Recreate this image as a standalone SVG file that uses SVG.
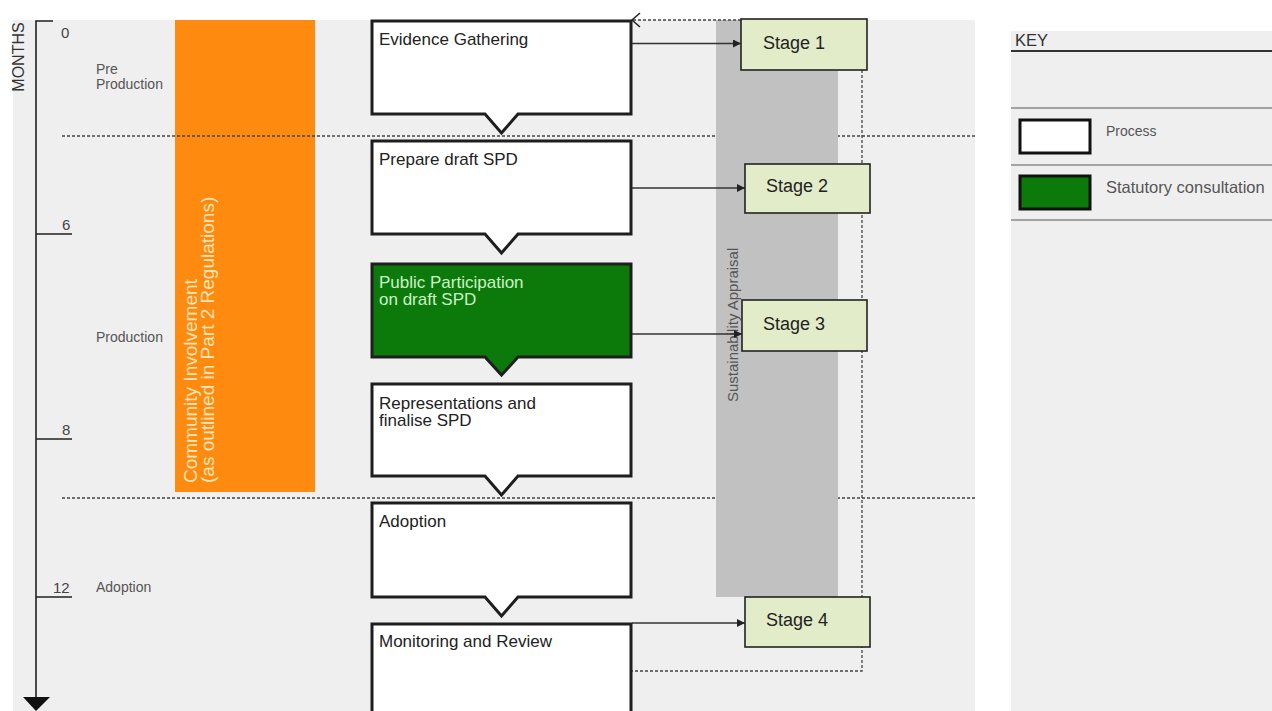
<svg xmlns="http://www.w3.org/2000/svg" width="1272" height="711" viewBox="0 0 1272 711">
<defs>
<style>
text{font-family:"Liberation Sans",Arial,sans-serif}
.box{fill:#ffffff;stroke:#1e1e1e;stroke-width:3}
.gbox{fill:#0b7a0b;stroke:#1e1e1e;stroke-width:3}
.bt{font-size:17px;fill:#222}
.gt{font-size:17px;fill:#ccf3c4}
.stage{fill:#e2ecc9;stroke:#222;stroke-width:1.6}
.st{font-size:18px;fill:#222}
.lbl{font-size:14px;fill:#555}
.num{font-size:15px;fill:#444}
.dash{fill:none;stroke:#444;stroke-width:1.3;stroke-dasharray:3 2}
.arr{fill:none;stroke:#333;stroke-width:1.5;marker-end:url(#ah)}
.axis{stroke:#222;stroke-width:1.6;fill:none}
</style>
<marker id="ah" viewBox="0 0 10 10" refX="10" refY="5" markerWidth="8" markerHeight="8" markerUnits="userSpaceOnUse" orient="auto">
<path d="M0,0 L10,5 L0,10 Z" fill="#222"/>
</marker>
</defs>
<rect x="0" y="0" width="1272" height="711" fill="#ffffff"/>
<g id="background">
<rect x="13" y="20" width="962" height="691" fill="#efefef"/>
<rect x="1011" y="31" width="261" height="680" fill="#efefef"/>
</g>
<g id="axis">
<path class="axis" d="M53,21 H36 V700"/>
<path d="M23,697 L50,697 L36,711 Z" fill="#111"/>
<path class="axis" d="M36,234 H72 M36,439 H72 M36,597 H72"/>
<text x="18" y="57" font-size="16" fill="#333" text-anchor="middle" transform="rotate(-90 18 57)" dominant-baseline="central">MONTHS</text>
<text class="num" x="61" y="38">0</text>
<text class="num" x="62" y="230">6</text>
<text class="num" x="62" y="435">8</text>
<text class="num" x="53" y="593">12</text>
<text class="lbl" x="96" y="74">Pre</text>
<text class="lbl" x="96" y="89">Production</text>
<text class="lbl" x="96" y="342">Production</text>
<text class="lbl" x="96" y="592">Adoption</text>
</g>
<g id="community">
<rect x="175" y="20" width="140" height="472" fill="#ff8a10"/>
<text x="0" y="0" font-size="19" fill="#ffe6b8" transform="translate(197 483) rotate(-90)">Community Involvement</text>
<text x="0" y="0" font-size="19" fill="#ffe6b8" transform="translate(214 483) rotate(-90)">(as outlined in Part 2 Regulations)</text>
</g>
<g id="phase-lines">
<line class="dash" x1="62" y1="136" x2="975" y2="136"/>
<line class="dash" x1="62" y1="498" x2="975" y2="498"/>
</g>
<g id="sustainability">
<rect x="716" y="20" width="122" height="577" fill="#c1c1c1"/>
<text x="0" y="0" font-size="15" fill="#555" transform="translate(738 402) rotate(-90)">Sustainability Appraisal</text>
</g>
<g id="connectors">
<path class="dash" d="M862,70 V671 H632"/>
<path class="dash" d="M741,20 H633"/>
<path d="M640,13 L632,20 L640,27" fill="none" stroke="#222" stroke-width="1.5"/>
<line class="arr" x1="632" y1="43.5" x2="741" y2="43.5"/>
<line class="arr" x1="632" y1="188" x2="745" y2="188"/>
<line class="arr" x1="632" y1="334" x2="742" y2="334"/>
<line class="arr" x1="632" y1="623" x2="745" y2="623"/>
</g>
<g id="evidence-gathering">
<path class="box" d="M372,21 H631 V114 H518 L501.5,133 L485,114 H372 Z"/>
<text class="bt" x="379" y="45">Evidence Gathering</text>
</g>
<g id="prepare-draft">
<path class="box" d="M372,141 H631 V234 H518 L501.5,253 L485,234 H372 Z"/>
<text class="bt" x="379" y="165">Prepare draft SPD</text>
</g>
<g id="public-participation">
<path class="gbox" d="M372,264 H631 V357 H518 L501.5,375 L485,357 H372 Z"/>
<text class="gt" x="379" y="288">Public Participation</text>
<text class="gt" x="379" y="305">on draft SPD</text>
</g>
<g id="representations">
<path class="box" d="M372,384 H631 V476 H518 L501.5,495 L485,476 H372 Z"/>
<text class="bt" x="379" y="409">Representations and</text>
<text class="bt" x="379" y="426">finalise SPD</text>
</g>
<g id="adoption">
<path class="box" d="M372,503 H631 V597 H518 L501.5,616 L485,597 H372 Z"/>
<text class="bt" x="379" y="527">Adoption</text>
</g>
<g id="monitoring">
<path class="box" d="M372,624 H631 V720 H372 Z"/>
<text class="bt" x="379" y="647">Monitoring and Review</text>
</g>
<g id="stage-1">
<rect class="stage" x="741" y="19" width="126" height="51"/>
<text class="st" x="763" y="49">Stage 1</text>
</g>
<g id="stage-2">
<rect class="stage" x="745" y="164" width="125" height="49"/>
<text class="st" x="766" y="192">Stage 2</text>
</g>
<g id="stage-3">
<rect class="stage" x="742" y="300" width="125" height="51"/>
<text class="st" x="763" y="330">Stage 3</text>
</g>
<g id="stage-4">
<rect class="stage" x="745" y="597" width="125" height="50"/>
<text class="st" x="766" y="626">Stage 4</text>
</g>
<g id="key">
<text x="1015" y="46" font-size="16.5" fill="#333">KEY</text>
<line x1="1011" y1="51" x2="1272" y2="51" stroke="#333" stroke-width="2"/>
<line x1="1011" y1="108" x2="1272" y2="108" stroke="#8a8a8a" stroke-width="1.5"/>
<line x1="1011" y1="165" x2="1272" y2="165" stroke="#8a8a8a" stroke-width="1.5"/>
<line x1="1011" y1="220" x2="1272" y2="220" stroke="#8a8a8a" stroke-width="1.5"/>
<rect x="1020" y="120" width="70" height="33" fill="#ffffff" stroke="#111" stroke-width="3"/>
<rect x="1020" y="176" width="70" height="33" fill="#0b7a0b" stroke="#111" stroke-width="3"/>
<text x="1106" y="136" font-size="14" fill="#555">Process</text>
<text x="1106" y="193" font-size="16.5" fill="#555">Statutory consultation</text>
</g>
</svg>
